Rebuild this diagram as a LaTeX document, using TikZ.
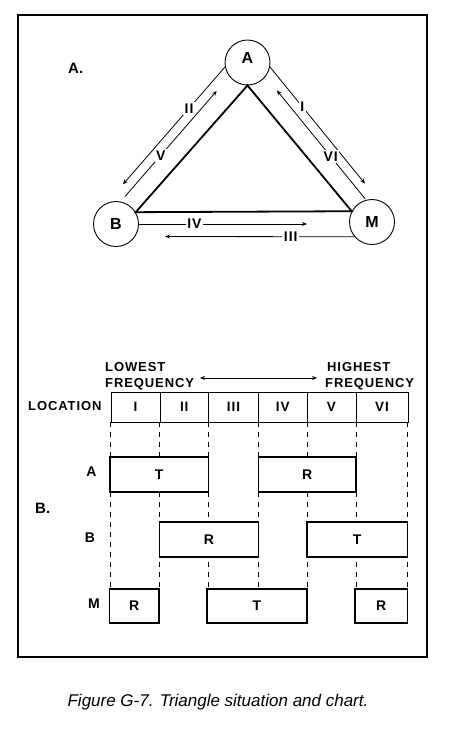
\documentclass[tikz,border=0pt]{standalone}
\usepackage{fontspec}
\setmainfont{Liberation Sans}
\newfontfamily\trk[LetterSpace=7]{Liberation Sans}
\usetikzlibrary{arrows.meta}
\begin{document}
\begin{tikzpicture}[x=1pt,y=-1pt,
  frame/.style={line width=1.5pt},
  station/.style={circle,draw,line width=0.9pt,minimum size=45pt,inner sep=0pt,
    font=\fontsize{16}{16}\selectfont\bfseries},
  side/.style={line width=1.8pt},
  sig/.style={line width=0.8pt,-{Stealth[length=5pt,width=4pt]}},
  numlab/.style={fill=white,inner sep=1.5pt,font=\trk\fontsize{14}{14}\selectfont\bfseries},
  txt/.style={inner sep=0pt,anchor=base west,font=\trk\fontsize{13}{13}\selectfont\bfseries},
  rowlab/.style={inner sep=0pt,anchor=base,font=\fontsize{14}{14}\selectfont\bfseries},
  seclab/.style={inner sep=0pt,anchor=base west,font=\fontsize{15}{15}\selectfont\bfseries},
  cellbox/.style={draw,line width=1pt,minimum height=30pt,inner sep=0pt,
    font=\trk\fontsize{13.5}{13.5}\selectfont\bfseries},
  tbox/.style={draw,fill=white,line width=1.3pt,inner sep=0pt,
    font=\fontsize{14}{14}\selectfont\bfseries},
  guide/.style={line width=0.7pt,dash pattern=on 5pt off 5pt}]
\useasboundingbox (0,0) rectangle (450,732);
\draw[frame] (18,15) rectangle (427,657);

% ---- part A: triangle ----
\node[seclab] (secA) at (68,73) {A.};
\node[station] (A) at (247.5,62.5) {\raisebox{-1pt}[0pt][0pt]{A}};
\node[station] (B) at (116,224) {B};
\node[station] (M) at (372,222) {M};
\draw[side] (A.south) -- (B.31) -- (M.152) -- cycle;

\coordinate (IIs) at (224.7,67.3);  \coordinate (IIe) at (123.0,184.3);
\coordinate (Vs)  at (124.9,196.6); \coordinate (Ve)  at (216.75,90.9);
\coordinate (Is)  at (269.9,66.9);  \coordinate (Ie)  at (365.0,183.6);
\coordinate (VIs) at (365.2,198.9); \coordinate (VIe) at (276.8,90.3);
\coordinate (ivE) at (307,224);
\coordinate (iiiS) at (M.220);
\coordinate (iiiE) at (165,236.5);

\draw[sig] (IIs) -- node[numlab,pos=0.35] (lII) {II} (IIe);
\draw[sig] (Vs) -- node[numlab,pos=0.39] (lV) {V} (Ve);
\draw[sig] (Is) -- node[numlab,pos=0.34] (lI) {I} (Ie);
\draw[sig] (VIs) -- node[numlab,pos=0.39] (lVI) {VI} (VIe);
\draw[sig] (B.east) -- node[numlab,pos=0.33] (lIV) {IV} (ivE);
\draw[sig] (iiiS) -- node[numlab,pos=0.336] (lIII) {III} (iiiE);

% ---- part B: chart ----
\node[seclab] (secB) at (35,513) {B.};
\node[txt] (low1) at (105,371) {LOWEST};
\node[txt] (low2) at (105,387) {FREQUENCY};
\node[txt] (hi1) at (327,371) {HIGHEST};
\node[txt] (hi2) at (325,387) {FREQUENCY};
\coordinate (fl) at (200,378); \coordinate (fr) at (317,378);
\draw[line width=0.8pt,{Stealth[length=5pt,width=4pt]}-{Stealth[length=5pt,width=4pt]}] (fl) -- (fr);

\node[txt] (loc) at (28,410) {LOCATION};

\foreach \x in {110,159.5,208,258.5,307,356,407.5}
  \draw[guide] (\x,422) -- (\x,589);

\node[cellbox,minimum width=49pt]   (c1) at (135.5,407)  {I};
\node[cellbox,minimum width=48.5pt] (c2) at (184.25,407) {II};
\node[cellbox,minimum width=50pt]   (c3) at (233.5,407)  {III};
\node[cellbox,minimum width=48.5pt] (c4) at (282.75,407) {IV};
\node[cellbox,minimum width=49pt]   (c5) at (331.5,407)  {V};
\node[cellbox,minimum width=52pt]   (c6) at (382,407)    {VI};

\node[rowlab] (rA) at (91.5,476.5) {A};
\node[rowlab] (rB) at (90,542) {B};
\node[rowlab] (rM) at (94,608) {M};

\node[tbox,minimum width=98.5pt,minimum height=35pt] (aT) at (159.25,474.5) {T};
\node[tbox,minimum width=97.5pt,minimum height=35pt] (aR) at (307.25,474.5) {R};
\node[tbox,minimum width=99pt,minimum height=35pt]   (bR) at (209,539.5) {R};
\node[tbox,minimum width=100.5pt,minimum height=35pt] (bT) at (357.25,539.5) {T};
\node[tbox,minimum width=49.5pt,minimum height=34pt] (mR1) at (134.25,606) {R};
\node[tbox,minimum width=100pt,minimum height=34pt]  (mT) at (257,606) {T};
\node[tbox,minimum width=52.5pt,minimum height=34pt] (mR2) at (381.25,606) {R};

% ---- caption ----
\node[inner sep=0pt,anchor=base,font=\fontsize{17}{17}\selectfont\itshape] (cap) at (218,706.5)
  {Figure G-7. Triangle situation and chart.};
\end{tikzpicture}
\end{document}
